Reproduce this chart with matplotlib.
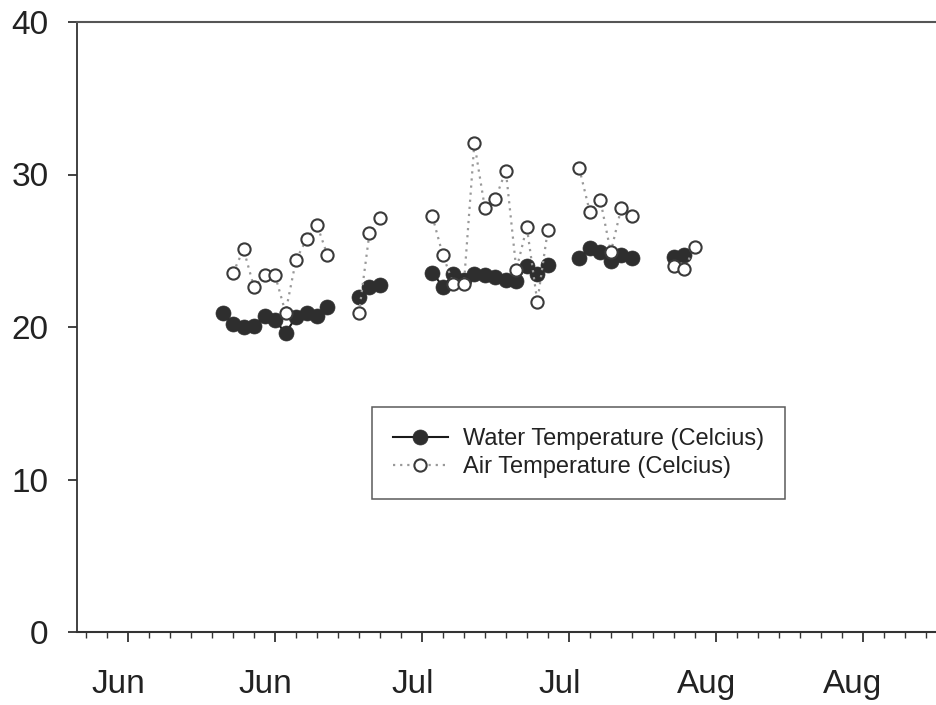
import numpy as np
import pandas as pd
import matplotlib
matplotlib.use("Agg")
import matplotlib.pyplot as plt
import matplotlib.dates as mdates
import matplotlib.transforms as mtransforms

# %% data (daily readings, NaN = no reading that day)
dates = pd.date_range("2002-06-19", "2002-08-03", freq="D")

water_temp = [20.9, 20.2, 20.0, 20.05, 20.7, 20.45, 19.6, 20.65, 20.95, 20.75, 21.3,
              np.nan, np.nan,
              21.95, 22.6, 22.75,
              np.nan, np.nan, np.nan, np.nan,
              23.55, 22.65, 23.45, 23.1, 23.45, 23.4, 23.3, 23.1, 23.0, 24.0, 23.5, 24.05,
              np.nan, np.nan,
              24.5, 25.15, 24.95, 24.3, 24.7, 24.5,
              np.nan, np.nan, np.nan,
              24.6, 24.7, np.nan]

air_temp = [np.nan, 23.55, 25.1, 22.6, 23.4, 23.4, 20.95, 24.4, 25.75, 26.7, 24.7,
            np.nan, np.nan,
            20.9, 26.15, 27.15,
            np.nan, np.nan, np.nan, np.nan,
            27.25, 24.7, 22.85, 22.8, 32.05, 27.8, 28.4, 30.25, 23.75, 26.55, 21.65, 26.35,
            np.nan, np.nan,
            30.4, 27.55, 28.35, 24.9, 27.8, 27.3,
            np.nan, np.nan, np.nan,
            24.0, 23.8, 25.25]

y_ticks = [0, 10, 20, 30, 40]
major_dates = pd.date_range("2002-06-10", periods=6, freq="14D")
minor_dates = pd.date_range("2002-06-06", "2002-08-26", freq="2D")

# %% plot
plt.rcParams['font.family'] = ['Liberation Sans', 'DejaVu Sans']
txt_col = '#222222'

fig = plt.figure(figsize=(9.36, 7.05), dpi=100)
ax = fig.add_axes([77/936, 1 - 632/705, (936 - 77)/936, 610/705])

ax.plot(dates, water_temp, '-', color='#1a1a1a', lw=1.5,
        marker='o', ms=10.8, mfc='#2e2e2e', mec='#2e2e2e', mew=0.5,
        label='Water Temperature (Celcius)', zorder=3)
ax.plot(dates, air_temp, linestyle=(0, (1, 2.2)), color='#999999', lw=1.6,
        marker='o', ms=8.8, mfc='white', mec='#3a3a3a', mew=1.5,
        label='Air Temperature (Celcius)', zorder=4)

ax.set_ylim(0, 40)
ax.set_yticks(y_ticks)
ax.set_xlim(major_dates[0] - pd.Timedelta(hours=117),
            major_dates[0] + pd.Timedelta(days=77))
ax.set_xticks(major_dates)
ax.set_xticks(minor_dates, minor=True)
ax.xaxis.set_major_formatter(mdates.DateFormatter('%b'))

ax.tick_params(axis='x', which='major', direction='out', length=7.5, width=1.3,
               pad=19, labelsize=24, colors='#333333', labelcolor=txt_col)
ax.tick_params(axis='x', which='minor', direction='out', length=4, width=1.0,
               colors='#333333')
ax.tick_params(axis='y', which='major', direction='out', length=6.5, width=1.3,
               pad=14, labelsize=24, colors='#333333', labelcolor=txt_col)

# labels sit a bit left of their ticks in the original
shift = mtransforms.ScaledTranslation(-9.5/100, 0, fig.dpi_scale_trans)
for lbl in ax.get_xticklabels():
    lbl.set_transform(lbl.get_transform() + shift)

ax.spines['right'].set_visible(False)
ax.spines['left'].set_color('#333333')
ax.spines['left'].set_linewidth(1.3)
ax.spines['bottom'].set_color('#333333')
ax.spines['bottom'].set_linewidth(1.5)
ax.spines['top'].set_color('#555555')
ax.spines['top'].set_linewidth(1.5)

leg = ax.legend(loc='upper left', bbox_to_anchor=((372 - 77)/859, (632 - 407)/610),
                borderaxespad=0, fontsize=17, frameon=True, fancybox=False,
                handlelength=2.3, handletextpad=0.65, borderpad=0.9,
                labelspacing=0.25)
leg.get_frame().set_edgecolor('#333333')
leg.get_frame().set_linewidth(1.1)
for t in leg.get_texts():
    t.set_color(txt_col)

fig.savefig('out.png', dpi=100)
